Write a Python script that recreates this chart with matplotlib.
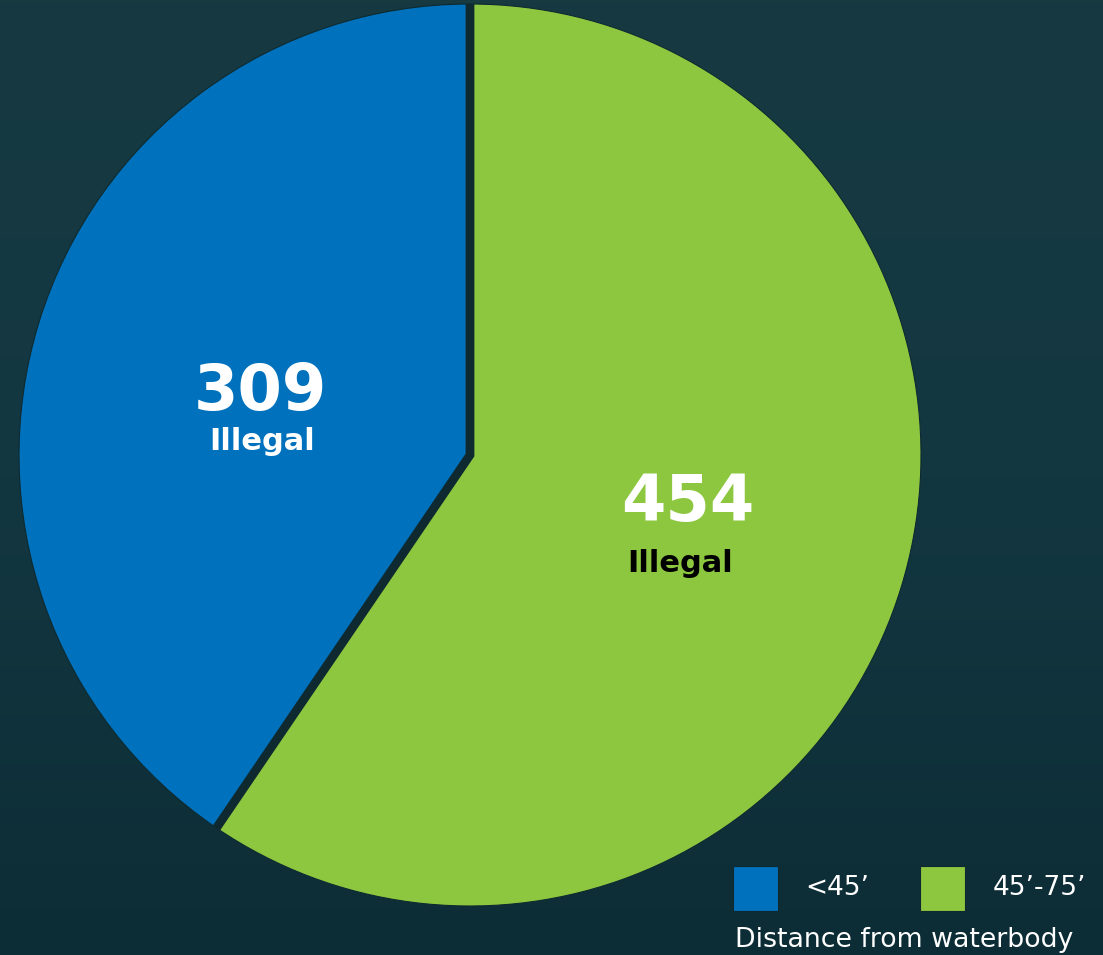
import numpy as np
import matplotlib
matplotlib.use('Agg')
import matplotlib.pyplot as plt
from matplotlib.patches import Rectangle

# data
categories = ['<45\u2019', '45\u2019-75\u2019']
values = [309, 454]
colors = ['#0071bc', '#8dc63f']
slice_labels = ['Illegal', 'Illegal']
legend_title = 'Distance from waterbody'

W, H = 1103, 955
fig = plt.figure(figsize=(W / 100, H / 100), dpi=100)
ax = fig.add_axes([0, 0, 1, 1])
ax.set_xlim(0, W)
ax.set_ylim(0, H)
ax.set_aspect('equal')
ax.axis('off')

# dark sea background
grad = np.linspace(0, 1, 256).reshape(-1, 1)
bg = matplotlib.colors.LinearSegmentedColormap.from_list('sea', ['#0d2d36', '#133741', '#173a41'])
ax.imshow(grad, cmap=bg, extent=[0, W, 0, H], aspect='auto', origin='lower', zorder=0)

edge = '#0e2a30'
cx, cy, r = 470, H - 455, 451
wedges, _ = ax.pie(values, colors=colors, startangle=90, counterclock=True,
                   center=(cx, cy), radius=r, frame=True,
                   wedgeprops=dict(edgecolor=edge, linewidth=0.8))
for w in wedges:
    w.set_zorder(2)
# thick separator along the wedge boundaries, joined at the centre
t0, t1 = np.deg2rad(wedges[0].theta1), np.deg2rad(wedges[1].theta1)
ax.plot([cx + r * np.cos(t0), cx, cx + r * np.cos(t1)],
        [cy + r * np.sin(t0), cy, cy + r * np.sin(t1)], color=edge,
        lw=6.3, solid_capstyle='butt', solid_joinstyle='miter', zorder=2.5)
ax.set_xlim(0, W)
ax.set_ylim(0, H)
ax.axis('off')

font = 'DejaVu Sans'
ax.text(260, H - 392, str(values[0]), color='white', fontsize=46, fontweight='bold',
        family=font, ha='center', va='center', zorder=3)
ax.text(262, H - 442, slice_labels[0], color='white', fontsize=22, fontweight='bold',
        family=font, ha='center', va='center', zorder=3)
ax.text(688, H - 503, str(values[1]), color='white', fontsize=46, fontweight='bold',
        family=font, ha='center', va='center', zorder=3)
ax.text(680, H - 563, slice_labels[1], color='black', fontsize=22, fontweight='bold',
        family=font, ha='center', va='center', zorder=3)

# legend
for x0, tx, c, lab in [(733, 805, colors[0], categories[0]), (920, 993, colors[1], categories[1])]:
    ax.add_patch(Rectangle((x0, H - 911), 45, 45, facecolor=c, edgecolor=edge, lw=0.8, zorder=3))
    ax.text(tx, H - 888, lab, color='white', fontsize=19, family=font,
            ha='left', va='center', zorder=3)
ax.text(735, H - 940, legend_title, color='white', fontsize=19.3, family=font,
        ha='left', va='center', zorder=3)

fig.savefig('out.png', dpi=100)
